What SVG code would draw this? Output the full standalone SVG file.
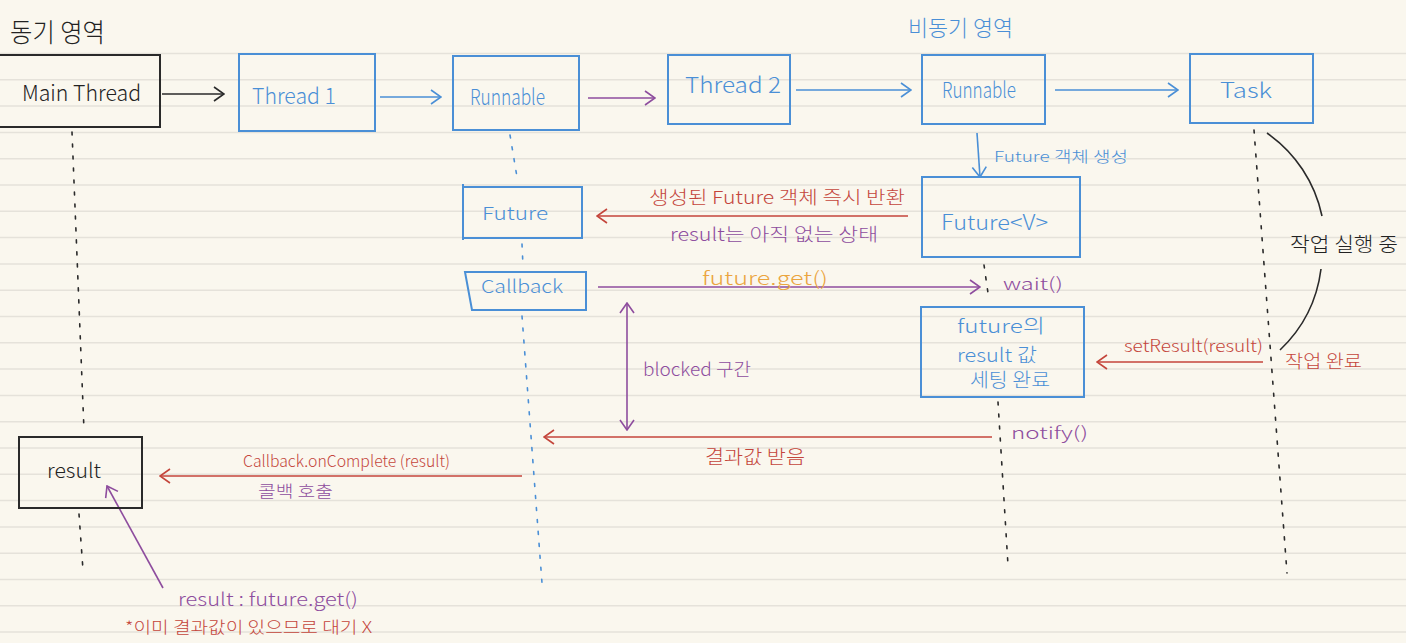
<svg xmlns="http://www.w3.org/2000/svg" width="1406" height="643" viewBox="0 0 1406 643">
<style>
.t{font-family:"Noto Sans CJK KR","Liberation Sans",sans-serif;font-weight:300;}
.bk{fill:#222;} .bl{fill:#4a8fd6;} .rd{fill:#c4453b;} .pu{fill:#8e4d9e;} .or{fill:#eba53e;}
.boxb{fill:none;stroke:#4a8fd6;stroke-width:2;}
.boxk{fill:none;stroke:#2a2a2a;stroke-width:2;}
.ll{fill:none;stroke-width:1.6;stroke-dasharray:3 9;stroke-linecap:round;}
.pl{stroke:#e5e2da;stroke-width:1.5;}
</style>
<defs>
<marker id="ak" viewBox="0 0 12 16" refX="11" refY="8" markerWidth="12" markerHeight="16" markerUnits="userSpaceOnUse" orient="auto-start-reverse"><path d="M1,1 L11,8 L1,15" fill="none" stroke="#2a2a2a" stroke-width="1.6"/></marker>
<marker id="ab" viewBox="0 0 12 16" refX="11" refY="8" markerWidth="12" markerHeight="16" markerUnits="userSpaceOnUse" orient="auto-start-reverse"><path d="M1,1 L11,8 L1,15" fill="none" stroke="#4a8fd6" stroke-width="1.6"/></marker>
<marker id="ap" viewBox="0 0 12 16" refX="11" refY="8" markerWidth="12" markerHeight="16" markerUnits="userSpaceOnUse" orient="auto-start-reverse"><path d="M1,1 L11,8 L1,15" fill="none" stroke="#8e4d9e" stroke-width="1.6"/></marker>
<marker id="ar" viewBox="0 0 12 16" refX="11" refY="8" markerWidth="12" markerHeight="16" markerUnits="userSpaceOnUse" orient="auto-start-reverse"><path d="M1,1 L11,8 L1,15" fill="none" stroke="#c4453b" stroke-width="1.6"/></marker>
</defs>
<rect width="1406" height="643" fill="#faf7ee"/>
<g id="paper">
<line class="pl" x1="0" y1="53.5" x2="1406" y2="53.5"/><line class="pl" x1="0" y1="79.8" x2="1406" y2="79.8"/><line class="pl" x1="0" y1="106.1" x2="1406" y2="106.1"/><line class="pl" x1="0" y1="132.4" x2="1406" y2="132.4"/><line class="pl" x1="0" y1="158.7" x2="1406" y2="158.7"/><line class="pl" x1="0" y1="185" x2="1406" y2="185"/><line class="pl" x1="0" y1="211.3" x2="1406" y2="211.3"/><line class="pl" x1="0" y1="237.6" x2="1406" y2="237.6"/><line class="pl" x1="0" y1="263.9" x2="1406" y2="263.9"/><line class="pl" x1="0" y1="290.2" x2="1406" y2="290.2"/><line class="pl" x1="0" y1="316.5" x2="1406" y2="316.5"/><line class="pl" x1="0" y1="342.8" x2="1406" y2="342.8"/><line class="pl" x1="0" y1="369.1" x2="1406" y2="369.1"/><line class="pl" x1="0" y1="395.4" x2="1406" y2="395.4"/><line class="pl" x1="0" y1="421.7" x2="1406" y2="421.7"/><line class="pl" x1="0" y1="448" x2="1406" y2="448"/><line class="pl" x1="0" y1="474.3" x2="1406" y2="474.3"/><line class="pl" x1="0" y1="500.6" x2="1406" y2="500.6"/><line class="pl" x1="0" y1="526.9" x2="1406" y2="526.9"/><line class="pl" x1="0" y1="553.2" x2="1406" y2="553.2"/><line class="pl" x1="0" y1="579.5" x2="1406" y2="579.5"/><line class="pl" x1="0" y1="605.8" x2="1406" y2="605.8"/><line class="pl" x1="0" y1="632.1" x2="1406" y2="632.1"/>
</g>
<g id="region-labels">
<text class="t bk" x="10" y="42" font-size="26" textLength="95" lengthAdjust="spacingAndGlyphs">동기 영역</text>
<text class="t bl" x="908" y="36" font-size="22" textLength="105" lengthAdjust="spacingAndGlyphs">비동기 영역</text>
</g>
<g id="lifelines">
<line class="ll" stroke="#2a2a2a" x1="72" y1="132" x2="84" y2="430"/>
<line class="ll" stroke="#2a2a2a" x1="79" y1="514" x2="83" y2="570"/>
<line class="ll" stroke="#4a8fd6" x1="510" y1="135" x2="517" y2="177"/>
<line class="ll" stroke="#4a8fd6" x1="522" y1="244" x2="523" y2="266"/>
<line class="ll" stroke="#4a8fd6" x1="522" y1="316" x2="542" y2="583"/>
<line class="ll" stroke="#2a2a2a" x1="984" y1="265" x2="989" y2="300"/>
<line class="ll" stroke="#2a2a2a" x1="998" y1="402" x2="1008" y2="565"/>
<line class="ll" stroke="#2a2a2a" x1="1254" y1="130" x2="1287" y2="573"/>
</g>
<g id="connectors">
<line x1="162" y1="94" x2="224" y2="94" stroke="#2a2a2a" stroke-width="1.6" marker-end="url(#ak)"/>
<line x1="380" y1="97" x2="441" y2="97" stroke="#4a8fd6" stroke-width="1.6" marker-end="url(#ab)"/>
<line x1="588" y1="98" x2="655" y2="98" stroke="#8e4d9e" stroke-width="1.6" marker-end="url(#ap)"/>
<line x1="796" y1="90" x2="911" y2="90" stroke="#4a8fd6" stroke-width="1.6" marker-end="url(#ab)"/>
<line x1="1055" y1="90" x2="1178" y2="90" stroke="#4a8fd6" stroke-width="1.6" marker-end="url(#ab)"/>
<line x1="977" y1="133" x2="980" y2="177" stroke="#4a8fd6" stroke-width="1.6" marker-end="url(#ab)"/>
<line x1="908" y1="216" x2="597" y2="216" stroke="#c4453b" stroke-width="1.6" marker-end="url(#ar)"/>
<line x1="598" y1="287" x2="980" y2="287" stroke="#8e4d9e" stroke-width="1.6" marker-end="url(#ap)"/>
<line x1="627" y1="303" x2="627" y2="430" stroke="#8e4d9e" stroke-width="1.6" marker-start="url(#ap)" marker-end="url(#ap)"/>
<line x1="1263" y1="362" x2="1097" y2="362" stroke="#c4453b" stroke-width="1.6" marker-end="url(#ar)"/>
<line x1="992" y1="437" x2="544" y2="437" stroke="#c4453b" stroke-width="1.6" marker-end="url(#ar)"/>
<line x1="522" y1="476" x2="160" y2="476" stroke="#c4453b" stroke-width="1.6" marker-end="url(#ar)"/>
<line x1="163" y1="588" x2="107" y2="486" stroke="#8e4d9e" stroke-width="1.6" marker-end="url(#ap)"/>
<path d="M1267,133 A135,135 0 0 1 1322,216" fill="none" stroke="#2a2a2a" stroke-width="1.6"/>
<path d="M1321,269 A135,135 0 0 1 1280,350" fill="none" stroke="#2a2a2a" stroke-width="1.6"/>
</g>
<g id="main-thread">
<rect class="boxk" x="-2" y="55" width="162" height="72"/>
<text class="t bk" x="22" y="101" font-size="22" textLength="119" lengthAdjust="spacingAndGlyphs">Main Thread</text>
</g>
<g id="thread1">
<rect class="boxb" x="239" y="54" width="136" height="77"/>
<text class="t bl" x="252" y="104" font-size="22" textLength="84" lengthAdjust="spacingAndGlyphs">Thread 1</text>
</g>
<g id="runnable1">
<rect class="boxb" x="453" y="56" width="126" height="74"/>
<text class="t bl" x="470" y="105" font-size="22" textLength="75" lengthAdjust="spacingAndGlyphs">Runnable</text>
</g>
<g id="thread2">
<rect class="boxb" x="668" y="55" width="122" height="69"/>
<text class="t bl" x="685" y="93" font-size="22" textLength="96" lengthAdjust="spacingAndGlyphs">Thread 2</text>
</g>
<g id="runnable2">
<rect class="boxb" x="922" y="55" width="123" height="69"/>
<text class="t bl" x="942" y="98" font-size="22" textLength="74" lengthAdjust="spacingAndGlyphs">Runnable</text>
</g>
<g id="task">
<rect class="boxb" x="1190" y="54" width="123" height="69"/>
<text class="t bl" x="1220" y="98" font-size="21" textLength="52" lengthAdjust="spacingAndGlyphs">Task</text>
</g>
<g id="future-v">
<rect class="boxb" x="922" y="177" width="158" height="80"/>
<text class="t bl" x="941" y="230" font-size="21" textLength="107" lengthAdjust="spacingAndGlyphs">Future&lt;V&gt;</text>
</g>
<g id="future">
<path class="boxb" d="M463,184 L463,240 M463,187 L582,187 L582,238 L463,238"/>
<text class="t bl" x="482" y="220" font-size="18" textLength="66" lengthAdjust="spacingAndGlyphs">Future</text>
</g>
<g id="callback">
<polygon class="boxb" points="465,272 586,272 586,310 472,310"/>
<text class="t bl" x="481" y="293" font-size="18" textLength="82" lengthAdjust="spacingAndGlyphs">Callback</text>
</g>
<g id="future-set">
<rect class="boxb" x="921" y="307" width="163" height="90"/>
<text class="t bl" x="957" y="333" font-size="19" textLength="88" lengthAdjust="spacingAndGlyphs">future의</text>
<text class="t bl" x="957" y="362" font-size="19" textLength="80" lengthAdjust="spacingAndGlyphs">result 값</text>
<text class="t bl" x="970" y="387" font-size="19" textLength="80" lengthAdjust="spacingAndGlyphs">세팅 완료</text>
</g>
<g id="result">
<rect class="boxk" x="19" y="437" width="123" height="71"/>
<text class="t bk" x="47" y="478" font-size="20" textLength="54" lengthAdjust="spacingAndGlyphs">result</text>
</g>
<g id="labels">
<text class="t bl" x="994" y="162" font-size="15" textLength="134" lengthAdjust="spacingAndGlyphs">Future 객체 생성</text>
<text class="t rd" x="649" y="204" font-size="18" textLength="256" lengthAdjust="spacingAndGlyphs">생성된 Future 객체 즉시 반환</text>
<text class="t pu" x="670" y="241" font-size="18" textLength="208" lengthAdjust="spacingAndGlyphs">result는 아직 없는 상태</text>
<text class="t or" x="702" y="285" font-size="19" textLength="126" lengthAdjust="spacingAndGlyphs">future.get()</text>
<text class="t pu" x="1003" y="290" font-size="17" textLength="60" lengthAdjust="spacingAndGlyphs">wait()</text>
<text class="t rd" x="1124" y="352" font-size="17" textLength="139" lengthAdjust="spacingAndGlyphs">setResult(result)</text>
<text class="t rd" x="1285" y="368" font-size="18" textLength="77" lengthAdjust="spacingAndGlyphs">작업 완료</text>
<text class="t bk" x="1290" y="252" font-size="20" textLength="108" lengthAdjust="spacingAndGlyphs">작업 실행 중</text>
<text class="t pu" x="643" y="376" font-size="18" textLength="108" lengthAdjust="spacingAndGlyphs">blocked 구간</text>
<text class="t rd" x="705" y="464" font-size="19" textLength="100" lengthAdjust="spacingAndGlyphs">결과값 받음</text>
<text class="t pu" x="1011" y="439" font-size="17" textLength="77" lengthAdjust="spacingAndGlyphs">notify()</text>
<text class="t rd" x="243" y="467" font-size="16" textLength="207" lengthAdjust="spacingAndGlyphs">Callback.onComplete (result)</text>
<text class="t pu" x="258" y="497" font-size="16" textLength="75" lengthAdjust="spacingAndGlyphs">콜백 호출</text>
<text class="t pu" x="178" y="606" font-size="18" textLength="180" lengthAdjust="spacingAndGlyphs">result : future.get()</text>
<text class="t rd" x="125" y="633" font-size="16" textLength="247" lengthAdjust="spacingAndGlyphs">*이미 결과값이 있으므로 대기 X</text>
</g>
</svg>
